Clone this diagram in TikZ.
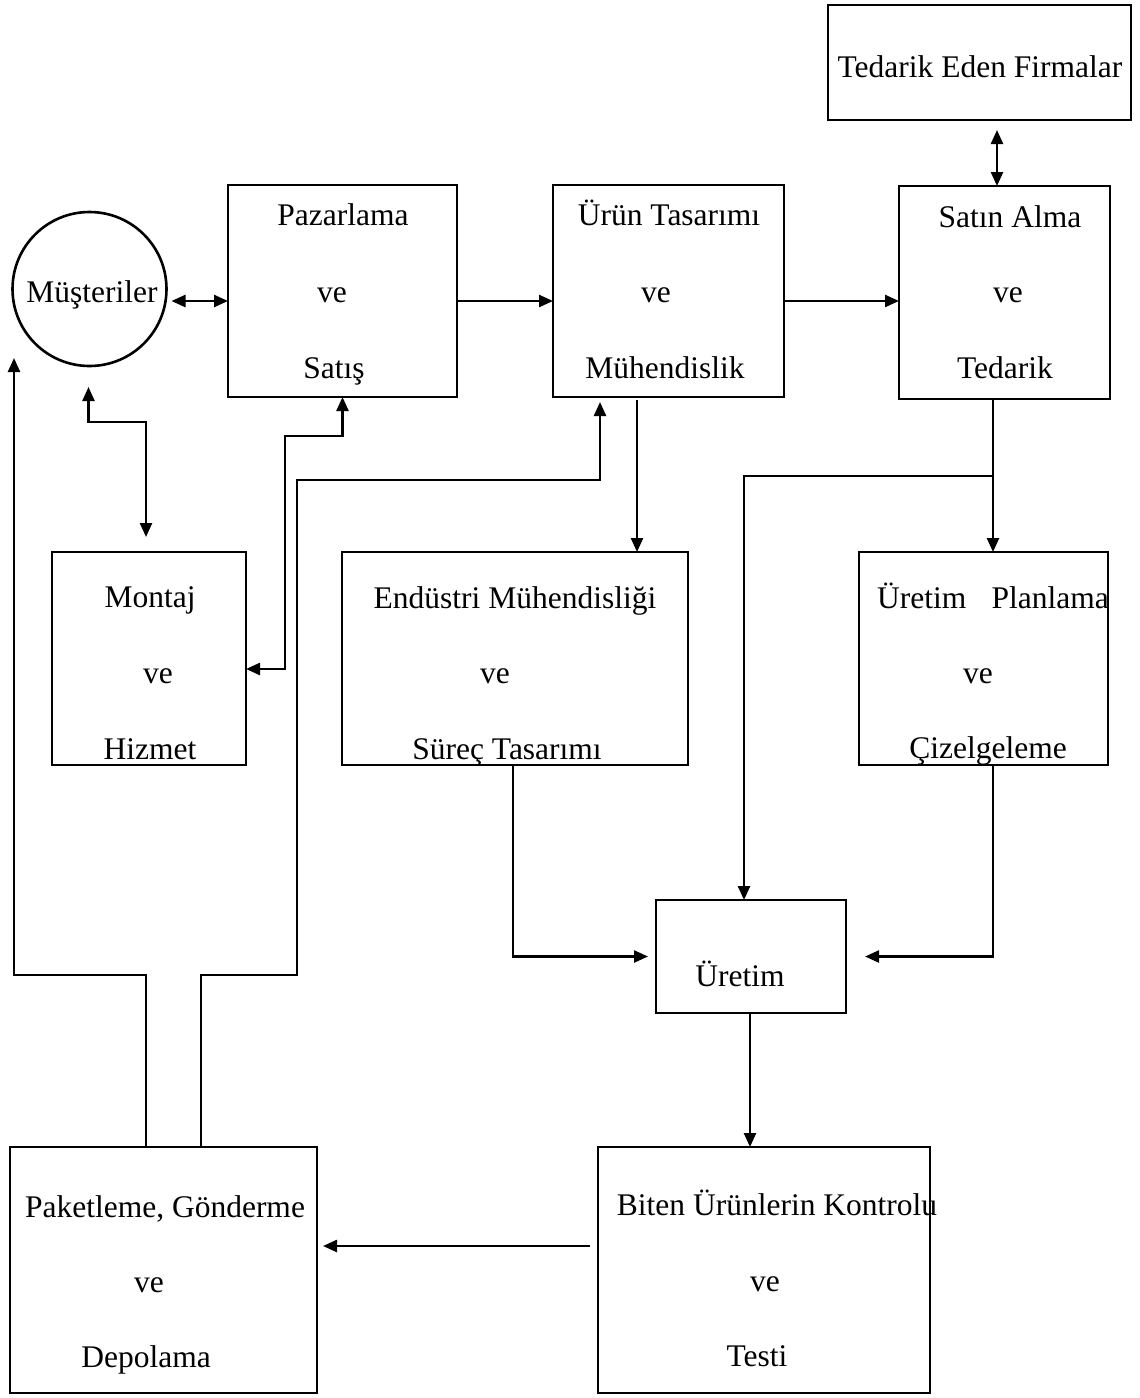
\documentclass[tikz,border=0pt]{standalone}
\usepackage{fontspec}
\setmainfont{Liberation Serif}
\usetikzlibrary{arrows.meta,calc}
\begin{document}
\begin{tikzpicture}[x=1pt,y=-1pt,
  every node/.style={font=\fontsize{31.5}{36}\selectfont},
  box/.style={draw, line width=2.6pt, inner sep=0pt, outer sep=0pt},
  txt/.style={anchor=base, inner sep=0pt, outer sep=0pt},
  tip/.tip={Triangle[length=14pt,width=12pt]},
  link/.style={line width=2.4pt},
  arr/.style={link, -tip},
  dbl/.style={link, tip-tip}]
\useasboundingbox (0,0) rectangle (1140,1398);

% ---- boxes ----
\node[box, circle, minimum size=154pt] (mus) at (89.5,289) {};
\node[box, minimum width=229pt, minimum height=212pt] (paz) at (342.5,291) {};
\node[box, minimum width=231pt, minimum height=212pt] (urn) at (668.5,291) {};
\node[box, minimum width=211pt, minimum height=213pt] (sat) at (1004.5,292.5) {};
\node[box, minimum width=303pt, minimum height=115pt] (ted) at (979.5,62.5) {};
\node[box, minimum width=194pt, minimum height=213pt] (mon) at (149,658.5) {};
\node[box, minimum width=346pt, minimum height=213pt] (end) at (515,658.5) {};
\node[box, minimum width=249pt, minimum height=213pt] (upl) at (983.5,658.5) {};
\node[box, minimum width=190pt, minimum height=113pt] (ure) at (751,956.5) {};
\node[box, minimum width=332pt, minimum height=246pt] (bit) at (764,1270) {};
\node[box, minimum width=307pt, minimum height=246pt] (pak) at (163.5,1270) {};

% ---- labels ----
\node[txt] (musA) at (92,302) {Müşteriler};
\node[txt] (tedA) at (980,77) {Tedarik Eden Firmalar};

\node[txt] (pazA) at (343,225) {Pazarlama};
\node[txt] (pazB) at (332,302) {ve};
\node[txt] (pazC) at (334,378) {Satış};

\node[txt] (urnA) at (669,225) {Ürün Tasarımı};
\node[txt] (urnB) at (656,302) {ve};
\node[txt] (urnC) at (665,378) {Mühendislik};

\node[txt] (satA) at (1010,227) {Satın Alma};
\node[txt] (satB) at (1008,302) {ve};
\node[txt] (satC) at (1005,378) {Tedarik};

\node[txt] (monA) at (150,607) {Montaj};
\node[txt] (monB) at (158,683) {ve};
\node[txt] (monC) at (150,759) {Hizmet};

\node[txt] (endA) at (515,608) {Endüstri Mühendisliği};
\node[txt] (endB) at (495,683) {ve};
\node[txt] (endC) at (507,759) {Süreç Tasarımı};

\node[txt] (uplA) at (993,608) {Üretim\hspace{0.8em}Planlama};
\node[txt] (uplB) at (978,683) {ve};
\node[txt] (uplC) at (988,758) {Çizelgeleme};

\node[txt] (ureA) at (740,986) {Üretim};

\node[txt] (pakA) at (165,1217) {Paketleme, Gönderme};
\node[txt] (pakB) at (149,1292) {ve};
\node[txt] (pakC) at (146,1367) {Depolama};

\node[txt] (bitA) at (777,1215) {Biten Ürünlerin Kontrolu};
\node[txt] (bitB) at (765,1291) {ve};
\node[txt] (bitC) at (757,1366) {Testi};

% ---- connectors: top row ----
\coordinate (mpOut) at ($(mus.east)+(5,12)$);
\draw[dbl] (mpOut) -- (mpOut -| paz.west);
\draw[arr] ([yshift=-10pt]paz.east) -- ([yshift=-10pt]paz.east -| urn.west);
\draw[arr] ([yshift=-10pt]urn.east) -- ([yshift=-10pt]urn.east -| sat.west);
\draw[dbl] ([xshift=17.5pt,yshift=-10pt]ted.south) -- ([xshift=17.5pt]ted.south |- sat.north);

% ---- Müşteriler <-> Montaj ve Hizmet ----
\draw[dbl] ($(mus.south)+(-1,21)$) -- ++(0,35) -| ($(mon.north)+(-3,-15)$);

% ---- Pazarlama <-> Montaj ve Hizmet ----
\coordinate (pm) at (285,669);
\draw[dbl] (paz.south) -- ++(0,39) -| (pm) -- (pm -| mon.east);

% ---- Paketleme -> Müşteriler ----
\coordinate (pkL) at ($(pak.north)+(-17.5,0)$);
\coordinate (musTip) at ($(mus.west)+(1.5,69)$);
\draw[arr] (pkL) -- ++(0,-172) -| (musTip);

% ---- Paketleme -> Ürün Tasarımı ----
\coordinate (pkR) at ($(pak.north)+(37.5,0)$);
\coordinate (rise) at (297,975);
\coordinate (turn) at (297,480);
\coordinate (urnTip) at ($(urn.south)+(-68.5,5)$);
\draw[arr] (pkR) |- (rise) -- (turn) -| (urnTip);

% ---- Ürün Tasarımı -> Endüstri Mühendisliği ----
\coordinate (ueTop) at ($(urn.south)+(-31.5,3)$);
\draw[arr] (ueTop) -- (ueTop |- end.north);

% ---- Satın Alma -> Üretim Planlama and Üretim ----
\coordinate (satOut) at ($(sat.south)+(-11.5,0)$);
\coordinate (split) at ($(sat.south)+(-11.5,77)$);
\draw[arr] (satOut) -- (satOut |- upl.north);
\draw[arr] (split) -| ($(ure.north)+(-7,0)$);

% ---- into Üretim from the sides ----
\draw[arr] ($(end.south)+(-2,0)$) |- ($(ure.west)+(-8,0)$);
\draw[arr] ($(upl.south)+(9.5,0)$) |- ($(ure.east)+(19,0)$);

% ---- Üretim -> Biten Ürünlerin Kontrolu -> Paketleme ----
\coordinate (ubOut) at ($(ure.south)+(-1,0)$);
\draw[arr] (ubOut) -- (ubOut |- bit.north);
\draw[arr] ($(bit.west)+(-8,-24)$) -- ($(pak.east)+(6,-24)$);
\end{tikzpicture}
\end{document}
